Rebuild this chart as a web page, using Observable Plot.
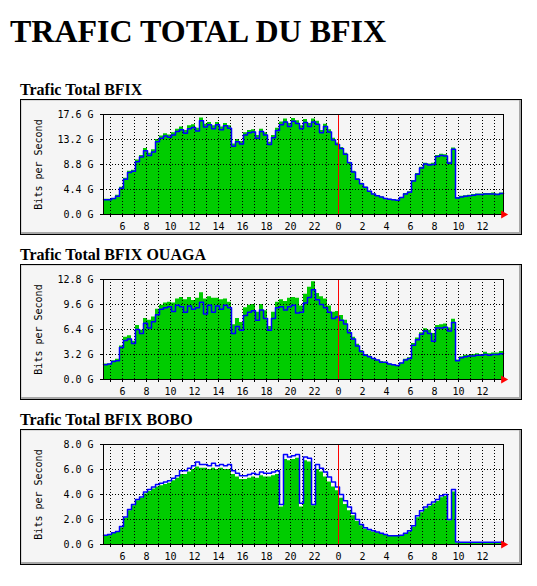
<!DOCTYPE html>
<html>
<head>
<meta charset="utf-8">
<script src="https://cdn.jsdelivr.net/npm/d3@7"></script>
<script src="https://cdn.jsdelivr.net/npm/@observablehq/plot@0.6"></script>
<style>
  html, body { margin: 0; padding: 0; background: #ffffff; }
  body { position: relative; width: 537px; height: 586px; overflow: hidden; }
  h1 { position: absolute; left: 10px; top: 15px; margin: 0; font: bold 32px/32px "Liberation Serif", "Times New Roman", serif; color: #000; white-space: nowrap; }
  .ttl { position: absolute; left: 20px; margin: 0; font: bold 16px/16px "Liberation Serif", "Times New Roman", serif; color: #000; white-space: nowrap; }
  .box { position: absolute; left: 20px; width: 502px; height: 136px; background: #f5f5f5; }
  .box svg { position: absolute; left: 0; top: 0; }
  .edge { position: absolute; left: 0; top: 0; width: 502px; height: 136px; box-sizing: border-box;
          border: 1px solid #000; box-shadow: inset -2px -2px 0 #a8a8a8, inset 1px 1px 0 #d8d8d8; pointer-events: none; }
</style>
</head>
<body>
<h1>TRAFIC TOTAL DU BFIX</h1>
<div id="root"></div>
<script>
// Time axis: samples every 20 minutes, first at 4:25, window ends 13:45 next day (hours from day start)
const startHour = 4 + 25 / 60;
const stepHours = 20 / 60;
const endHour = 37.75;

const titles = ["Trafic Total BFIX", "Trafic Total BFIX OUAGA", "Trafic Total BFIX BOBO"];
const yMax = [17.6, 12.8, 8.0];

// Gbit/s, incoming (green area)
const inBfix = [2.7,2.7,2.8,3.4,4.8,6.4,7.6,7.8,9.6,10.4,11.6,10.8,11.4,13.2,13.8,14.2,14.0,14.4,15.0,15.4,
  14.8,15.6,15.8,15.2,17.0,15.9,16.2,15.6,16.2,15.4,16.0,15.6,12.4,13.2,12.8,14.4,14.8,14.9,13.9,15.0,
  14.4,12.7,13.9,15.2,16.3,16.8,16.0,16.9,16.5,15.6,16.7,16.0,16.8,16.4,14.8,15.9,14.9,13.4,12.6,11.8,
  10.8,9.2,7.6,6.3,5.5,4.8,4.1,3.6,3.3,3.1,2.8,2.7,2.6,2.5,3.0,3.7,4.0,6.0,7.2,8.3,
  9.0,8.9,9.0,10.4,10.6,10.5,9.2,11.7,3.0,3.2,3.3,3.4,3.5,3.6,3.6,3.7,3.7,3.8,3.6,3.8];
// Gbit/s, outgoing (blue line)
const outBfix = [2.6,2.6,2.8,3.2,4.6,6.2,7.4,7.6,9.3,10.1,11.2,10.4,11.0,12.8,13.4,13.8,13.6,14.0,14.6,14.9,
  14.3,15.1,15.3,14.7,16.5,15.4,15.8,15.1,15.8,14.9,15.6,15.2,12.0,12.8,12.4,14.0,14.4,14.5,13.4,14.6,
  14.0,12.3,13.5,14.8,15.8,16.3,15.5,16.4,16.0,15.1,16.2,15.5,16.3,15.9,14.4,15.5,14.5,13.1,12.3,11.6,
  10.6,9.1,7.5,6.2,5.4,4.8,4.1,3.6,3.3,3.1,2.8,2.7,2.6,2.5,3.0,3.6,3.9,5.9,7.1,8.2,
  8.9,8.7,8.8,10.2,10.4,10.3,9.0,11.5,2.9,3.1,3.2,3.3,3.4,3.5,3.5,3.6,3.6,3.6,3.5,3.7];

const inOuaga = [2.0,2.0,2.4,2.6,4.3,5.4,5.6,4.9,6.9,6.3,7.8,7.6,8.0,9.0,9.5,9.8,9.9,9.8,10.3,10.5,
  10.2,10.5,10.1,10.4,11.1,10.3,10.6,10.4,10.4,10.2,10.3,9.9,7.0,7.8,7.3,9.2,9.5,9.6,8.6,9.6,
  8.8,6.8,8.6,9.9,10.2,10.0,10.4,10.5,10.4,9.4,10.9,11.8,12.5,11.0,10.6,10.3,9.4,8.6,8.7,8.2,
  7.6,6.3,5.4,4.5,3.7,3.2,3.0,2.7,2.5,2.3,2.2,2.0,1.9,1.8,2.1,2.6,2.8,4.6,5.3,6.0,
  6.5,6.3,5.9,6.9,7.0,7.1,6.6,7.7,2.5,2.9,3.1,3.1,3.2,3.3,3.2,3.5,3.3,3.4,3.4,3.6];
const outOuaga = [1.9,2.0,2.3,2.4,4.1,5.0,5.2,4.6,6.4,5.9,7.2,6.6,7.4,8.3,9.0,9.2,9.3,8.7,9.5,9.3,
  8.6,9.4,9.0,9.2,9.9,8.4,9.5,8.6,9.4,9.0,9.5,9.2,5.9,6.8,6.3,8.2,8.6,8.8,7.6,8.9,
  7.8,6.3,7.8,9.2,9.3,8.9,9.3,9.5,8.5,8.6,9.8,10.5,11.5,10.2,9.6,9.2,8.6,7.8,8.0,7.6,
  7.1,6.0,5.2,4.3,3.6,3.1,2.9,2.7,2.5,2.2,2.2,2.0,1.9,1.8,2.1,2.5,2.7,4.4,5.1,5.8,
  6.2,5.9,4.9,6.6,6.6,6.7,6.2,7.3,2.4,2.8,2.9,3.0,3.0,3.1,3.1,3.2,3.1,3.2,3.2,3.3];

const inBobo = [0.70,0.72,0.88,1.00,1.35,2.1,2.7,3.1,3.5,3.7,4.05,4.25,4.45,4.6,4.7,4.8,4.9,5.1,5.3,5.6,
  5.6,5.8,6.0,6.2,6.1,6.1,6.0,6.1,6.0,6.1,6.0,6.0,5.6,5.4,5.2,5.2,5.3,5.4,5.3,5.5,
  5.4,5.4,5.5,5.6,3.0,6.8,6.7,6.8,6.9,3.0,6.7,6.6,3.1,6.0,5.8,5.4,5.0,4.6,4.3,3.7,
  3.2,2.7,2.3,1.85,1.5,1.25,1.1,1.0,0.95,0.85,0.75,0.68,0.66,0.66,0.7,0.85,1.0,1.4,2.15,2.55,
  2.85,3.05,3.25,3.45,3.75,3.85,1.9,4.2,0.12,0.1,0.1,0.1,0.1,0.1,0.1,0.1,0.1,0.1,0.1,0.1];
const outBobo = [0.75,0.80,0.95,1.05,1.45,2.2,2.8,3.2,3.6,3.8,4.2,4.4,4.6,4.8,4.9,5.0,5.1,5.3,5.5,5.9,
  5.9,6.1,6.3,6.6,6.4,6.4,6.3,6.5,6.3,6.4,6.3,6.4,5.9,5.7,5.5,5.5,5.6,5.7,5.6,5.8,
  5.7,5.7,5.8,5.9,3.2,7.2,7.0,7.1,7.2,3.3,7.0,6.9,3.2,6.4,6.1,5.8,5.4,5.0,4.6,4.0,
  3.5,3.0,2.5,2.0,1.6,1.35,1.2,1.1,1.0,0.9,0.8,0.7,0.7,0.7,0.75,0.9,1.1,1.5,2.3,2.7,
  3.0,3.2,3.4,3.6,3.9,4.0,2.0,4.4,0.2,0.18,0.18,0.18,0.18,0.18,0.18,0.18,0.18,0.18,0.18,0.18];

const inputs = [inBfix, inOuaga, inBobo];
const outputs = [outBfix, outOuaga, outBobo];

const panelGap = 165;
const root = document.getElementById("root");

function makeChart(inV, outV, ymax) {
  const rows = inV.map((v, i) => ({ t: startHour + i * stepHours, inp: v, out: outV[i] }));
  rows.push({ t: endHour, inp: inV[inV.length - 1], out: outV[outV.length - 1] });
  const q = ymax / 4;
  const yTicks = [0, q, 2 * q, 3 * q, 4 * q];
  const hours = d3.range(5, 38);
  return Plot.plot({
    width: 502, height: 136,
    marginLeft: 83, marginRight: 19, marginTop: 15, marginBottom: 21,
    style: { background: "transparent", fontFamily: "'DejaVu Sans Mono', monospace", fontSize: "10px", color: "#000", overflow: "visible" },
    x: { domain: [startHour, endHour] },
    y: { domain: [0, ymax] },
    marks: [
      Plot.areaY(rows, { x: "t", y: "inp", curve: "step-after", fill: "#00cc00" }),
      Plot.ruleY(yTicks.slice(1, 4), { stroke: "#000", strokeDasharray: "1,2" }),
      Plot.ruleX(hours, { stroke: "#000", strokeDasharray: "1,2" }),
      Plot.lineY(rows, { x: "t", y: "out", curve: "step-after", stroke: "#0000ff", strokeWidth: 1.5 }),
      Plot.ruleX([24], { stroke: "#ff0000" }),
      Plot.frame({ stroke: "#000" }),
      Plot.axisX(hours, { tickSize: 3, tickPadding: 5, tickFormat: h => (h % 2 === 0 ? String(h % 24) : ""), label: null }),
      Plot.axisY(yTicks, { tickSize: 3, tickPadding: 7, tickFormat: v => v.toFixed(1) + " G", label: null }),
      Plot.text(["Bits per Second"], { frameAnchor: "left", textAnchor: "middle", lineAnchor: "middle", dx: -65, rotate: -90, text: d => d }),
      Plot.dot([endHour], { x: d => d, y: 0, symbol: "triangle", rotate: 90, r: 3, fill: "#ff0000", stroke: null })
    ]
  });
}

titles.forEach((title, i) => {
  const top = 99 + i * panelGap;
  const h = document.createElement("div");
  h.className = "ttl";
  h.style.top = (top - 17) + "px";
  h.textContent = title;
  root.appendChild(h);
  const box = document.createElement("div");
  box.className = "box";
  box.style.top = top + "px";
  box.appendChild(makeChart(inputs[i], outputs[i], yMax[i]));
  const edge = document.createElement("div");
  edge.className = "edge";
  box.appendChild(edge);
  root.appendChild(box);
});
</script>
</body>
</html>
